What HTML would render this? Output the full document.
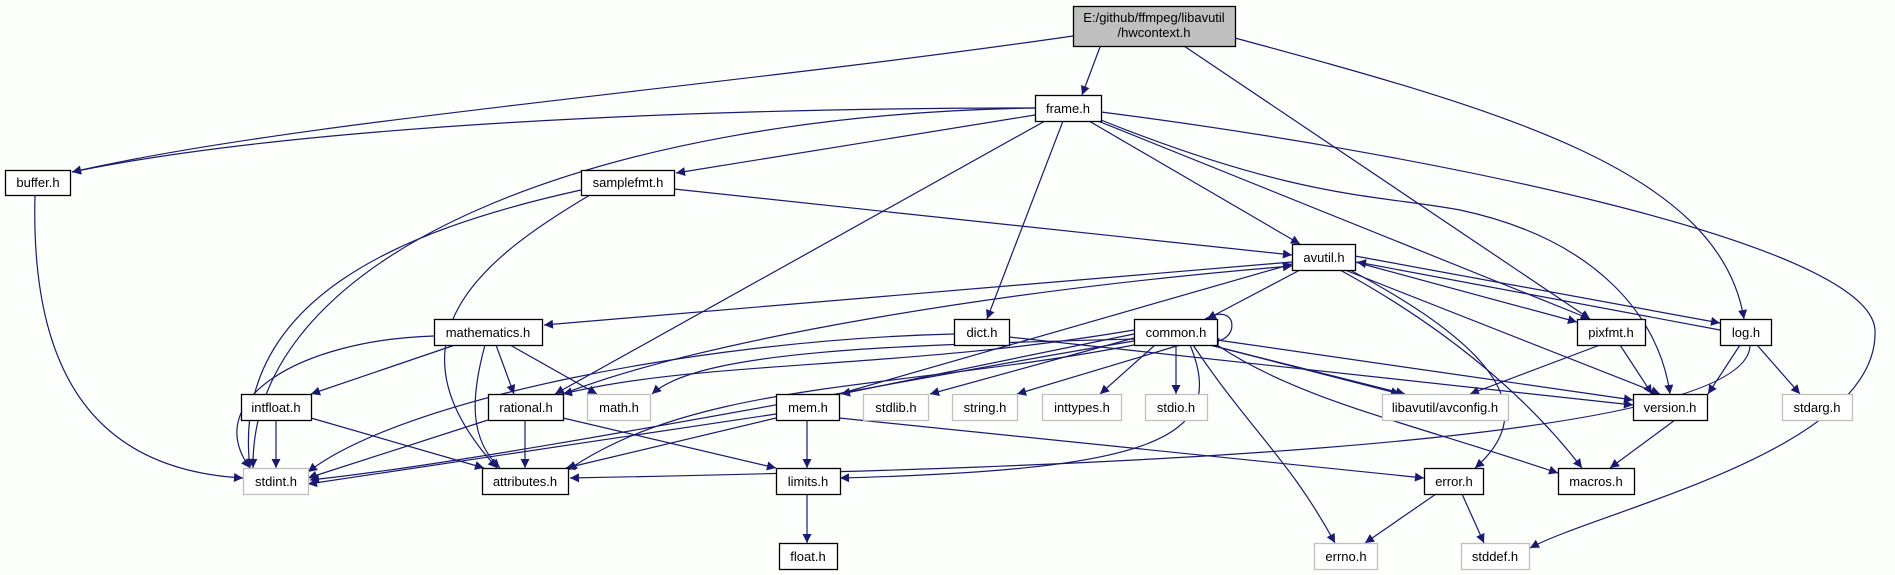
<!DOCTYPE html>
<html><head><meta charset="utf-8"><style>
html,body{margin:0;padding:0;background:#fdfffd;}
svg{display:block;}
text{font-family:"Liberation Sans Narrow","Liberation Sans",sans-serif;font-size:13px;fill:#000;}
</style></head><body>
<svg width="1895" height="575" viewBox="0 0 1895 575" xmlns="http://www.w3.org/2000/svg">
<defs>
<marker id="a" viewBox="0 0 10 10" refX="10" refY="5" markerWidth="11" markerHeight="9" markerUnits="userSpaceOnUse" orient="auto"><path d="M0,0 L10,5 L0,10 z" fill="#191970"/></marker>
</defs>
<rect width="1895" height="575" fill="#fdfffd"/>
<g fill="none" stroke="#191970" stroke-width="1.2" marker-end="url(#a)">
<path d="M1073,36 C700,90 300,120 72,172"/>
<path d="M1100,47 L1082,95"/>
<path d="M1184,46 L1590,319"/>
<path d="M1235,38 C1500,110 1720,170 1744,319"/>
<path d="M1035,108 C700,108 300,125 72,172"/>
<path d="M1035,115 L676,173"/>
<path d="M1035,108 C600,115 250,250 253,468"/>
<path d="M1045,121 L555,394"/>
<path d="M1063,121 L987,319"/>
<path d="M1089,121 L1300,244"/>
<path d="M1098,121 L1590,319"/>
<path d="M1101,120 C1300,200 1380,195 1460,210 C1600,240 1660,320 1670,394"/>
<path d="M1101,112 C1400,150 1870,240 1875,330 C1880,450 1600,510 1530,548"/>
<path d="M581,190 C400,230 230,300 250,468"/>
<path d="M590,195 C480,260 380,340 497,468"/>
<path d="M674,189 L1292,255"/>
<path d="M35,195 C30,380 100,470 243,478"/>
<path d="M1292,262 L544,325"/>
<path d="M1300,270 L1207,319"/>
<path d="M1355,262 L1577,322"/>
<path d="M1355,256 L1720,323"/>
<path d="M1720,330 L1357,262"/>
<path d="M1345,270 L1660,394"/>
<path d="M1340,270 C1450,330 1530,400 1582,468"/>
<path d="M1350,270 C1520,360 1530,420 1475,468"/>
<path d="M839,394 L1292,264"/>
<path d="M563,394 C700,340 1000,290 1292,266"/>
<path d="M1740,345 L1708,394"/>
<path d="M1757,345 L1800,394"/>
<path d="M1750,345 C1750,450 1000,470 570,478"/>
<path d="M1600,345 L1470,394"/>
<path d="M1620,345 L1652,394"/>
<path d="M1675,420 L1610,468"/>
<path d="M1180,345 L1017,394"/>
<path d="M1155,345 L1100,394"/>
<path d="M1176,345 L1176,394"/>
<path d="M1190,340 L1405,394"/>
<path d="M1217,340 L1633,400"/>
<path d="M1193,345 C1250,430 1290,460 1335,543"/>
<path d="M1190,345 C1230,440 1150,470 840,478"/>
<path d="M1217,345 C1300,400 1400,420 1558,473"/>
<path d="M1134,339 C900,345 700,350 652,394"/>
<path d="M1134,334 L841,394"/>
<path d="M1134,338 L930,394"/>
<path d="M1134,345 C900,390 700,380 568,470"/>
<path d="M1134,341 C900,380 500,460 310,480"/>
<path d="M1134,330 C900,370 700,360 563,394"/>
<path d="M1205,319 C1240,300 1240,345 1210,341"/>
<path d="M1009,337 L1633,405"/>
<path d="M954,334 C700,340 400,400 308,472"/>
<path d="M434,336 C300,340 200,400 250,468"/>
<path d="M455,345 L311,394"/>
<path d="M496,345 L514,394"/>
<path d="M510,345 L597,394"/>
<path d="M485,345 C470,400 470,440 500,468"/>
<path d="M276,420 L276,468"/>
<path d="M311,418 L484,468"/>
<path d="M525,420 L525,468"/>
<path d="M488,420 L308,478"/>
<path d="M563,418 L776,468"/>
<path d="M776,414 L308,484"/>
<path d="M776,418 L566,468"/>
<path d="M807,420 L807,468"/>
<path d="M839,418 L1424,478"/>
<path d="M807,494 L807,543"/>
<path d="M1436,494 L1365,543"/>
<path d="M1462,494 L1484,543"/>
<path d="M1210,345 L1400,394"/>
</g>
<g stroke-width="1.3">
<rect x="1073.5" y="6.5" width="162" height="40" fill="#bfbfbf" stroke="#000"/>
<rect x="5.5" y="170.5" width="65" height="25" fill="#fff" stroke="#000"/>
<rect x="581.5" y="170.5" width="93" height="25" fill="#fff" stroke="#000"/>
<rect x="1035.5" y="95.5" width="66" height="26" fill="#fff" stroke="#000"/>
<rect x="1292.5" y="244.5" width="63" height="26" fill="#fff" stroke="#000"/>
<rect x="434.5" y="319.5" width="108" height="26" fill="#fff" stroke="#000"/>
<rect x="954.5" y="319.5" width="55" height="26" fill="#fff" stroke="#000"/>
<rect x="1134.5" y="319.5" width="83" height="26" fill="#fff" stroke="#000"/>
<rect x="1577.5" y="319.5" width="68" height="26" fill="#fff" stroke="#000"/>
<rect x="1720.5" y="319.5" width="51" height="26" fill="#fff" stroke="#000"/>
<rect x="241.5" y="394.5" width="70" height="26" fill="#fff" stroke="#000"/>
<rect x="488.5" y="394.5" width="75" height="26" fill="#fff" stroke="#000"/>
<rect x="587.5" y="394.5" width="63" height="26" fill="#fff" stroke="#bfbfbf"/>
<rect x="776.5" y="394.5" width="63" height="26" fill="#fff" stroke="#000"/>
<rect x="863.5" y="394.5" width="65" height="26" fill="#fff" stroke="#bfbfbf"/>
<rect x="952.5" y="394.5" width="65" height="26" fill="#fff" stroke="#bfbfbf"/>
<rect x="1042.5" y="394.5" width="79" height="26" fill="#fff" stroke="#bfbfbf"/>
<rect x="1145.5" y="394.5" width="62" height="26" fill="#fff" stroke="#bfbfbf"/>
<rect x="1382.5" y="394.5" width="126" height="26" fill="#fff" stroke="#bfbfbf"/>
<rect x="1633.5" y="394.5" width="74" height="26" fill="#fff" stroke="#000"/>
<rect x="1782.5" y="394.5" width="70" height="26" fill="#fff" stroke="#bfbfbf"/>
<rect x="243.5" y="468.5" width="65" height="26" fill="#fff" stroke="#bfbfbf"/>
<rect x="482.5" y="468.5" width="86" height="26" fill="#fff" stroke="#000"/>
<rect x="776.5" y="468.5" width="64" height="26" fill="#fff" stroke="#000"/>
<rect x="1424.5" y="468.5" width="59" height="26" fill="#fff" stroke="#000"/>
<rect x="1558.5" y="468.5" width="76" height="26" fill="#fff" stroke="#000"/>
<rect x="779.5" y="543.5" width="58" height="26" fill="#fff" stroke="#000"/>
<rect x="1314.5" y="543.5" width="63" height="26" fill="#fff" stroke="#bfbfbf"/>
<rect x="1461.5" y="543.5" width="68" height="26" fill="#fff" stroke="#bfbfbf"/>
</g>
<g text-anchor="middle">
<text x="1154" y="22">E:/github/ffmpeg/libavutil</text>
<text x="1154" y="37">/hwcontext.h</text>
<text x="38" y="187">buffer.h</text>
<text x="628" y="187">samplefmt.h</text>
<text x="1068" y="113">frame.h</text>
<text x="1324" y="262">avutil.h</text>
<text x="488" y="337">mathematics.h</text>
<text x="982" y="337">dict.h</text>
<text x="1176" y="337">common.h</text>
<text x="1611" y="337">pixfmt.h</text>
<text x="1746" y="337">log.h</text>
<text x="276" y="412">intfloat.h</text>
<text x="526" y="412">rational.h</text>
<text x="619" y="412">math.h</text>
<text x="808" y="412">mem.h</text>
<text x="896" y="412">stdlib.h</text>
<text x="985" y="412">string.h</text>
<text x="1082" y="412">inttypes.h</text>
<text x="1176" y="412">stdio.h</text>
<text x="1445" y="412">libavutil/avconfig.h</text>
<text x="1670" y="412">version.h</text>
<text x="1817" y="412">stdarg.h</text>
<text x="276" y="486">stdint.h</text>
<text x="525" y="486">attributes.h</text>
<text x="808" y="486">limits.h</text>
<text x="1454" y="486">error.h</text>
<text x="1596" y="486">macros.h</text>
<text x="808" y="561">float.h</text>
<text x="1346" y="561">errno.h</text>
<text x="1495" y="561">stddef.h</text>
</g>
</svg>
</body></html>
